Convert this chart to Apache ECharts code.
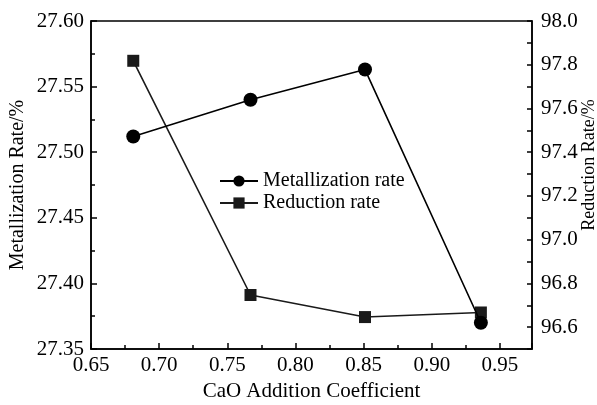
<!DOCTYPE html>
<html>
<head>
<meta charset="utf-8">
<script src="https://cdn.jsdelivr.net/npm/echarts@6/dist/echarts.min.js"></script>
<style>
  html, body { margin: 0; padding: 0; background: #fff; }
  #chart { width: 597px; height: 405px; }
</style>
</head>
<body>
<div id="chart"></div>
<script>
// CaO addition coefficient (x) and the two measured rates
const caoCoefficient = [0.681, 0.767, 0.851, 0.936];
const metallizationRate = [27.512, 27.540, 27.563, 27.370];
const reductionRate = [97.818, 96.747, 96.646, 96.667];

const FONT = '"Liberation Serif", "Times New Roman", serif';
const BLACK = '#000';

function pairs(xs, ys) {
  return xs.map((x, i) => [x, ys[i]]);
}

const chart = echarts.init(document.getElementById('chart'), null, { renderer: 'canvas' });

const axisText = { color: BLACK, fontFamily: FONT, fontSize: 21 };

chart.setOption({
  animation: false,
  backgroundColor: '#fff',
  grid: {
    left: 91, right: 65, top: 21, bottom: 56,
    outerBoundsMode: 'none',
    containLabel: false,
    show: true, borderColor: BLACK, borderWidth: 1.5, backgroundColor: 'transparent'
  },
  legend: {
    orient: 'vertical',
    left: 219, top: 171, padding: 0,
    itemWidth: 38, itemHeight: 14, itemGap: 2,
    textStyle: { color: BLACK, fontFamily: FONT, fontSize: 20 },
    data: ['Metallization rate', 'Reduction rate']
  },
  xAxis: {
    type: 'value',
    min: 0.65, max: 0.9735, interval: 0.05,
    name: 'CaO Addition Coefficient',
    nameLocation: 'middle', nameGap: 32, nameMoveOverlap: false,
    nameTextStyle: { color: BLACK, fontFamily: FONT, fontSize: 21 },
    axisLine: { show: true, lineStyle: { color: BLACK, width: 1.5 } },
    axisTick: { show: true, inside: true, length: 6, lineStyle: { color: BLACK, width: 1.5 } },
    minorTick: { show: true, splitNumber: 2, length: 4, lineStyle: { color: BLACK, width: 1.5 } },
    splitLine: { show: false },
    axisLabel: Object.assign({ margin: 6, showMaxLabel: false,
      formatter: v => v.toFixed(2) }, axisText)
  },
  yAxis: [
    {
      type: 'value', position: 'left',
      min: 27.35, max: 27.60, interval: 0.05,
      name: 'Metallization Rate/%',
      nameLocation: 'middle', nameGap: 63, nameMoveOverlap: false,
      nameTextStyle: { color: BLACK, fontFamily: FONT, fontSize: 20 },
      axisLine: { show: true, lineStyle: { color: BLACK, width: 1.5 } },
      axisTick: { show: true, inside: true, length: 6, lineStyle: { color: BLACK, width: 1.5 } },
      minorTick: { show: true, splitNumber: 2, length: 4, lineStyle: { color: BLACK, width: 1.5 } },
      splitLine: { show: false },
      axisLabel: Object.assign({ margin: 7, formatter: v => v.toFixed(2) }, axisText)
    },
    {
      type: 'value', position: 'right',
      min: 96.5, max: 98.0, interval: 0.1,
      name: 'Reduction Rate/%',
      nameLocation: 'middle', nameGap: 48, nameMoveOverlap: false,
      nameTextStyle: { color: BLACK, fontFamily: FONT, fontSize: 18, padding: [0, 0, 0, 40] },
      axisLine: { show: true, lineStyle: { color: BLACK, width: 1.5 } },
      axisTick: { show: true, inside: true, length: 5, lineStyle: { color: BLACK, width: 1.5 } },
      splitLine: { show: false },
      axisLabel: Object.assign({
        margin: 9,
        formatter: v => {
          const k = Math.round(v * 10);
          return (k % 2 === 0 && k >= 966) ? (k / 10).toFixed(1) : '';
        }
      }, axisText)
    }
  ],
  series: [
    {
      name: 'Metallization rate',
      type: 'line',
      yAxisIndex: 0,
      data: pairs(caoCoefficient, metallizationRate),
      symbol: 'circle', symbolSize: 14,
      itemStyle: { color: BLACK },
      lineStyle: { color: BLACK, width: 1.6 },
      z: 3
    },
    {
      name: 'Reduction rate',
      type: 'line',
      yAxisIndex: 1,
      data: pairs(caoCoefficient, reductionRate),
      symbol: 'rect', symbolSize: 12,
      itemStyle: { color: '#1a1a1a' },
      lineStyle: { color: '#1a1a1a', width: 1.6 },
      z: 2
    }
  ]
});
</script>
</body>
</html>
